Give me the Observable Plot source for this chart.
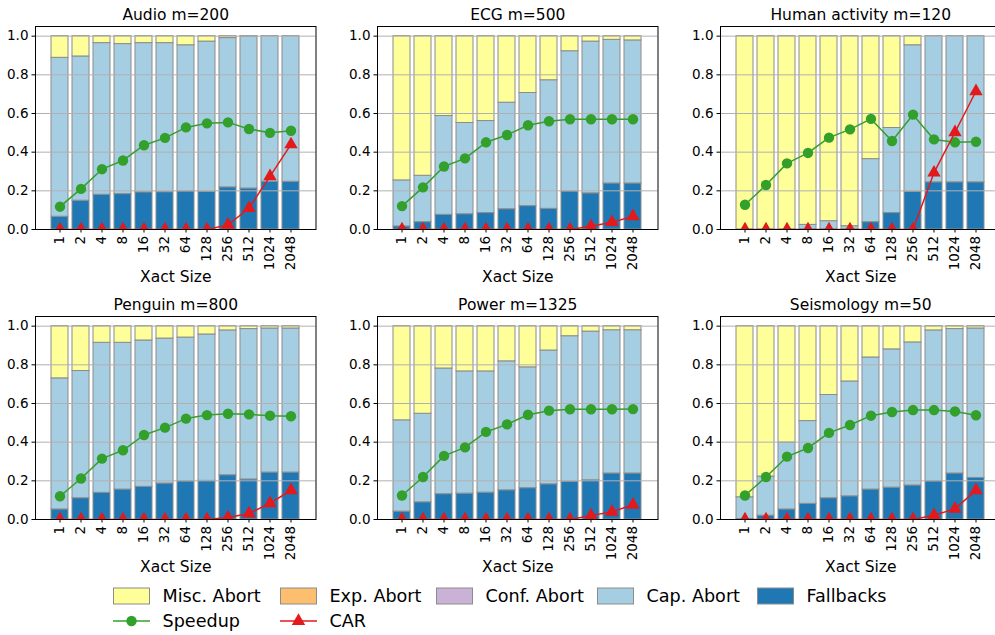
<!DOCTYPE html>
<html><head><meta charset="utf-8">
<script src="https://cdn.jsdelivr.net/npm/d3@7"></script>
<script src="https://cdn.jsdelivr.net/npm/@observablehq/plot@0.6"></script>
<style>
html,body{margin:0;padding:0;background:#fff;overflow:hidden;}
#root{position:relative;width:995px;height:635px;overflow:hidden;font-family:"DejaVu Sans",sans-serif;color:#000;}
.leg{position:absolute;display:flex;align-items:center;font-size:17.6px;white-space:nowrap;height:20px;}
.leg svg{margin-right:12.5px;overflow:visible;}
</style></head><body><div id="root"></div><script>
// ---- data ----
const sizes = ["1","2","4","8","16","32","64","128","256","512","1024","2048"];
const datasets = ["Audio m=200","ECG m=500","Human activity m=120","Penguin m=800","Power m=1325","Seismology m=50"];
const series = ["Fallbacks","Cap. Abort","Conf. Abort","Exp. Abort","Misc. Abort"];
const legendOrder = ["Misc. Abort","Exp. Abort","Conf. Abort","Cap. Abort","Fallbacks"];
const lineNames = ["Speedup","CAR"];
const yTicks = [0,0.2,0.4,0.6,0.8,1.0];

const fallbacks = [
  [0.066,0.149,0.180,0.183,0.192,0.193,0.197,0.195,0.218,0.212,0.247,0.247],
  [0.016,0.038,0.076,0.079,0.085,0.105,0.121,0.107,0.197,0.187,0.238,0.238],
  [0,0,0,0,0,0,0.038,0.085,0.195,0.244,0.244,0.244],
  [0.052,0.110,0.138,0.155,0.169,0.186,0.198,0.200,0.229,0.207,0.243,0.243],
  [0.041,0.089,0.131,0.134,0.139,0.151,0.162,0.182,0.196,0.203,0.238,0.238],
  [0.002,0.020,0.052,0.081,0.110,0.120,0.155,0.165,0.176,0.198,0.238,0.215]
];
const capAbort = [
  [0.822,0.746,0.784,0.776,0.772,0.771,0.756,0.777,0.772,0.786,0.753,0.753],
  [0.238,0.240,0.511,0.472,0.476,0.551,0.585,0.665,0.725,0.785,0.743,0.740],
  [0,0,0,0.024,0.043,0.017,0.326,0.440,0.758,0.756,0.756,0.756],
  [0.678,0.658,0.776,0.759,0.757,0.750,0.743,0.757,0.749,0.778,0.745,0.745],
  [0.472,0.458,0.650,0.632,0.627,0.667,0.625,0.692,0.752,0.769,0.741,0.741],
  [0.113,0.202,0.346,0.428,0.534,0.594,0.683,0.715,0.740,0.780,0.747,0.773]
];
const confAbort = [
  [0,0,0,0,0,0,0,0,0,0,0,0],
  [0,0,0,0,0,0,0,0,0,0,0,0],
  [0,0,0,0,0,0,0,0,0,0,0,0],
  [0,0,0,0,0,0,0,0,0,0,0,0],
  [0,0,0,0,0,0,0,0,0,0,0,0],
  [0,0,0,0,0,0,0,0,0,0,0,0]
];
const expAbort = [
  [0,0,0,0,0,0,0,0,0,0,0,0],
  [0,0,0,0,0,0,0,0,0,0,0,0],
  [0,0,0,0,0,0,0,0,0,0,0,0],
  [0,0,0,0,0,0,0,0,0,0,0,0],
  [0,0,0,0,0,0,0,0,0,0,0,0],
  [0,0,0,0,0,0,0,0,0,0,0,0]
];
const miscAbort = [
  [0.112,0.105,0.036,0.041,0.036,0.036,0.047,0.028,0.010,0.002,0,0],
  [0.746,0.722,0.413,0.449,0.439,0.344,0.294,0.228,0.078,0.028,0.019,0.022],
  [1,1,1,0.976,0.957,0.983,0.636,0.475,0.047,0,0,0],
  [0.270,0.232,0.086,0.086,0.074,0.064,0.059,0.043,0.022,0.015,0.012,0.012],
  [0.487,0.453,0.219,0.234,0.234,0.182,0.213,0.126,0.052,0.028,0.021,0.021],
  [0.885,0.778,0.602,0.491,0.356,0.286,0.162,0.120,0.084,0.022,0.015,0.012]
];
const speedup = [
  [0.118,0.210,0.312,0.357,0.436,0.474,0.528,0.549,0.554,0.520,0.500,0.511],
  [0.121,0.218,0.326,0.368,0.451,0.489,0.539,0.560,0.570,0.570,0.570,0.570],
  [0.128,0.230,0.342,0.396,0.475,0.518,0.572,0.458,0.594,0.466,0.451,0.454],
  [0.120,0.212,0.315,0.358,0.437,0.475,0.522,0.540,0.547,0.544,0.537,0.534],
  [0.124,0.220,0.329,0.373,0.453,0.492,0.542,0.563,0.570,0.570,0.570,0.571],
  [0.124,0.220,0.325,0.370,0.448,0.489,0.537,0.556,0.566,0.566,0.559,0.539]
];
const car = [
  [0,0,0,0,0,0,0,0,0.024,0.110,0.275,0.440],
  [0,0,0,0,0,0,0,0,0,0.017,0.038,0.068],
  [0,0,0,0,0,0,0,0,0,0.294,0.503,0.715],
  [0,0,0,0,0,0,0,0,0.010,0.031,0.084,0.151],
  [0,0,0,0,0,0,0,0,0,0.020,0.040,0.076],
  [0,0,0,0,0,0,0,0,0,0.022,0.055,0.151]
];

// ---- styles ----
const colors = ["#1f78b4","#a6cee3","#cab2d6","#fdbf6f","#ffff99"];
const green = "#33a02c", red = "#e31a1c", edge = "#8c8c8c";
const segValues = [fallbacks, capAbort, confAbort, expAbort, miscAbort];

const root = document.getElementById("root");
const FL = [34.5, 377, 720], FT = [26, 315.5], FW = 280.5, FH = 203;
const ML = 40, MR = 14, MT = 26, MB = 62;

datasets.forEach((title, i) => {
  const col = i % 3, row = Math.floor(i / 3);
  const rows = [];
  sizes.forEach((s, j) => series.forEach((name, k) => rows.push({size: s, series: name, value: segValues[k][i][j]})));
  const lineData = sizes.map((s, j) => ({size: s, speedup: speedup[i][j], car: car[i][j]}));
  const p = Plot.plot({
    width: ML + FW + MR, height: MT + FH + MB,
    marginLeft: ML, marginRight: MR, marginTop: MT, marginBottom: MB,
    style: {fontFamily: "DejaVu Sans", fontSize: "13.5px", background: "transparent", overflow: "visible", color: "#000"},
    x: {type: "band", domain: sizes, paddingInner: 0.2, paddingOuter: 0.59},
    y: {domain: [0, 1.05]},
    color: {domain: series, range: colors},
    marks: [
      Plot.barY(rows, {x: "size", y: "value", fill: "series", order: series, stroke: edge, strokeWidth: 1}),
      Plot.ruleY(yTicks, {stroke: "#b0b0b0", strokeWidth: 1}),
      Plot.line(lineData, {x: "size", y: "speedup", stroke: green, strokeWidth: 1.5}),
      Plot.dot(lineData, {x: "size", y: "speedup", fill: green, r: 5.2, symbol: "circle"}),
      Plot.line(lineData, {x: "size", y: "car", stroke: red, strokeWidth: 1.5, clip: true}),
      Plot.dot(lineData, {x: "size", y: "car", fill: red, r: 5, symbol: "triangle", clip: true}),
      Plot.frame({stroke: "#000", strokeWidth: 1}),
      Plot.axisY({ticks: yTicks, tickFormat: d3.format(".1f"), tickSize: 3.5, tickPadding: 3.5, label: null, fontSize: 13.5}),
      Plot.axisX({tickRotate: -90, tickSize: 3.5, tickPadding: 3, label: null, fontSize: 13.5}),
      Plot.text([title], {frameAnchor: "top", dy: -11, lineAnchor: "middle", fontSize: 15.5}),
      Plot.text(["Xact Size"], {frameAnchor: "bottom", dy: 47.5, lineAnchor: "middle", fontSize: 15.5})
    ]
  });
  p.style.position = "absolute";
  p.style.left = (FL[col] - ML) + "px";
  p.style.top = (FT[row] - MT) + "px";
  root.appendChild(p);
});

// ---- legend ----
const legCols = [113, 280, 436, 597, 757];
const ns = "http://www.w3.org/2000/svg";
function swatch(kind, color) {
  const s = document.createElementNS(ns, "svg");
  s.setAttribute("width", 37); s.setAttribute("height", 18);
  if (kind === "patch") {
    s.innerHTML = `<rect x="0.5" y="1" width="36" height="16" fill="${color}" stroke="${edge}" stroke-width="1"/>`;
  } else if (kind === "circle") {
    s.innerHTML = `<line x1="0" x2="37" y1="9" y2="9" stroke="${color}" stroke-width="1.5"/><circle cx="18.5" cy="9" r="5.2" fill="${color}"/>`;
  } else {
    const sym = d3.symbol(d3.symbolTriangle, Math.PI * 25)();
    s.innerHTML = `<line x1="0" x2="37" y1="9" y2="9" stroke="${color}" stroke-width="1.5"/><path transform="translate(18.5,9)" d="${sym}" fill="${color}"/>`;
  }
  return s;
}
legendOrder.forEach((name, c) => {
  const d = document.createElement("div");
  d.className = "leg";
  d.style.left = legCols[c] + "px"; d.style.top = "586px";
  d.appendChild(swatch("patch", colors[series.indexOf(name)]));
  d.appendChild(document.createTextNode(name));
  root.appendChild(d);
});
lineNames.forEach((name, c) => {
  const d = document.createElement("div");
  d.className = "leg";
  d.style.left = legCols[c] + "px"; d.style.top = "611px";
  d.appendChild(swatch(c === 0 ? "circle" : "triangle", c === 0 ? green : red));
  d.appendChild(document.createTextNode(name));
  root.appendChild(d);
});
</script></body></html>
